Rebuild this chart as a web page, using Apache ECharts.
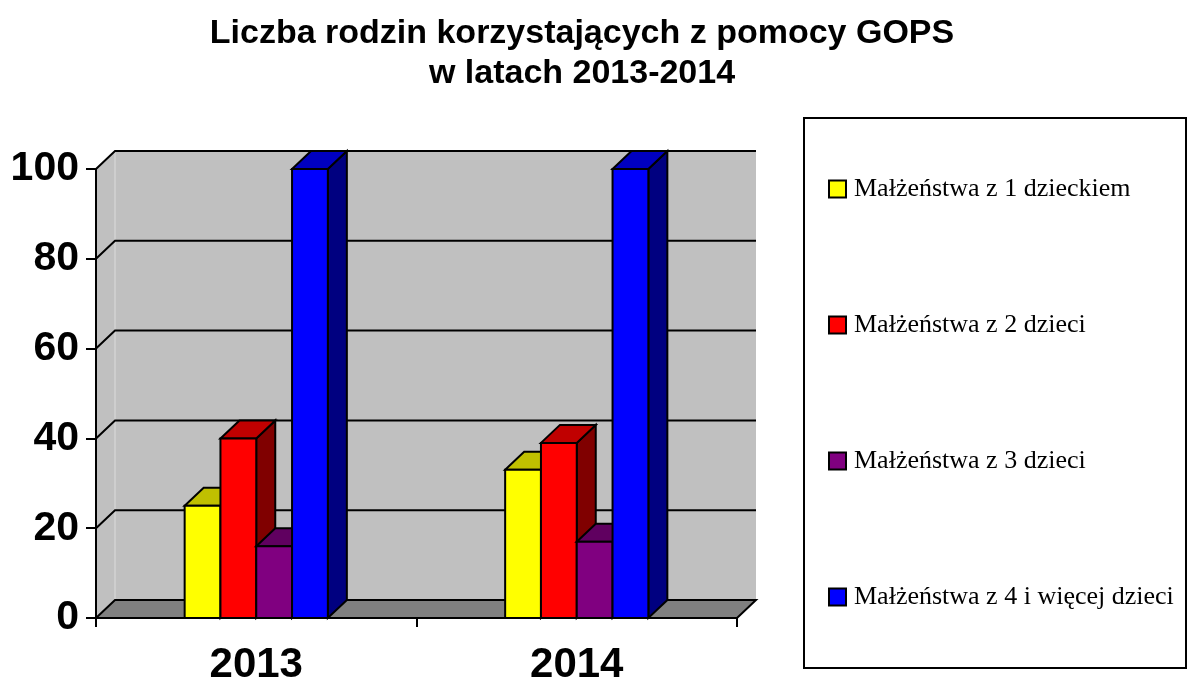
<!DOCTYPE html>
<html>
<head>
<meta charset="utf-8">
<title>Liczba rodzin korzystających z pomocy GOPS</title>
<script src="https://cdn.jsdelivr.net/npm/echarts@6/dist/echarts.min.js"></script>
<style>
  html, body { margin: 0; padding: 0; background: #fff; }
  #chart { width: 1188px; height: 680px; }
</style>
</head>
<body>
<div id="chart"></div>
<script>
// dane
const years = ['2013', '2014'];
const seriesNames = [
    'Małżeństwa z 1 dzieckiem',
    'Małżeństwa z 2 dzieci',
    'Małżeństwa z 3 dzieci',
    'Małżeństwa z 4 i więcej dzieci'
];
const jednoDziecko = [25, 33];
const dwojeDzieci = [40, 39];
const trojeDzieci = [16, 17];
const czworoIWiecej = [100, 100];
const yTicks = [0, 20, 40, 60, 80, 100];

const values = [jednoDziecko, dwojeDzieci, trojeDzieci, czworoIWiecej];
const frontColors = ['#ffff00', '#ff0000', '#800080', '#0000ff'];
const topColors = ['#c0c000', '#c00000', '#600060', '#0000c0'];
const sideColors = ['#808000', '#800000', '#400040', '#000080'];

// przesuniecie "glebi" 3D
const DX = 19, DY = -18;
const line = { stroke: '#000', lineWidth: 2 };

function poly(points, fill, stroke) {
    return {
        type: 'polygon',
        shape: { points: points },
        style: Object.assign({ fill: fill, lineJoin: 'miter' }, stroke === false ? { stroke: null } : line)
    };
}

function renderWalls(params, api) {
    const cs = params.coordSys;
    const gx = cs.x, gw = cs.width;
    const yTop = api.coord([0, yTicks[yTicks.length - 1]])[1];
    const yBot = api.coord([0, 0])[1];
    const children = [];
    // sciana tylna
    children.push({
        type: 'rect',
        shape: { x: gx + DX, y: yTop + DY, width: gw, height: yBot - yTop },
        style: { fill: '#c0c0c0' }
    });
    // sciana boczna
    children.push(poly([[gx, yTop], [gx + DX, yTop + DY], [gx + DX, yBot + DY], [gx, yBot]], '#c0c0c0', false));
    children.push({
        type: 'line',
        shape: { x1: gx + DX, y1: yTop + DY, x2: gx + DX, y2: yBot + DY },
        style: { stroke: '#dcdcdc', lineWidth: 1 }
    });
    // linie siatki
    yTicks.forEach(function (t) {
        if (t === 0) return;
        const y = api.coord([0, t])[1];
        children.push({
            type: 'polyline',
            shape: { points: [[gx, y], [gx + DX, y + DY], [gx + gw + DX, y + DY]] },
            style: { stroke: '#000', lineWidth: 2, fill: null }
        });
    });
    // podloga
    children.push(poly([[gx, yBot], [gx + DX, yBot + DY], [gx + gw + DX, yBot + DY], [gx + gw, yBot]], '#808080'));
    return { type: 'group', children: children };
}

function barRenderer(k) {
    return function (params, api) {
        const cat = api.value(0);
        const val = api.value(1);
        const base = api.coord([cat, 0]);
        const w = api.size([1, 0])[0] * 0.1117;
        const x0 = base[0] - 2 * w + k * w;
        const x1 = x0 + w;
        const yb = base[1];
        const yt = api.coord([cat, val])[1];
        return {
            type: 'group',
            children: [
                poly([[x1, yt], [x1 + DX, yt + DY], [x1 + DX, yb + DY], [x1, yb]], sideColors[k]),
                poly([[x0, yt], [x0 + DX, yt + DY], [x1 + DX, yt + DY], [x1, yt]], topColors[k]),
                { type: 'rect', shape: { x: x0, y: yt, width: w, height: yb - yt },
                  style: Object.assign({ fill: frontColors[k] }, line) }
            ]
        };
    };
}

const chart = echarts.init(document.getElementById('chart'), null, { renderer: 'canvas' });

const series = [{
    type: 'custom',
    name: 'walls',
    silent: true,
    clip: false,
    z: 1,
    renderItem: renderWalls,
    data: [[0, 0]]
}];
seriesNames.forEach(function (name, k) {
    series.push({
        type: 'custom',
        name: name,
        clip: false,
        z: 2,
        itemStyle: { color: frontColors[k] },
        renderItem: barRenderer(k),
        data: years.map(function (y, i) { return [i, values[k][i]]; })
    });
});

chart.setOption({
    animation: false,
    backgroundColor: '#fff',
    title: {
        text: 'Liczba rodzin korzystających z pomocy GOPS\nw latach 2013-2014',
        left: 577,
        top: 9,
        textAlign: 'center',
        textStyle: {
            fontFamily: 'Liberation Sans, Arial, sans-serif',
            fontSize: 34,
            fontWeight: 'bold',
            lineHeight: 40,
            color: '#000'
        }
    },
    graphic: [{
        type: 'rect',
        left: 803,
        top: 117,
        shape: { width: 382, height: 550 },
        style: { fill: '#fff', stroke: '#000', lineWidth: 2 },
        z: 0
    }],
    legend: {
        orient: 'vertical',
        left: 828,
        top: 176,
        padding: 0,
        itemWidth: 17,
        itemHeight: 17,
        itemGap: 110,
        selectedMode: false,
        data: seriesNames.map(function (n, k) {
            return { name: n, icon: 'rect', itemStyle: { color: frontColors[k], borderColor: '#000', borderWidth: 2 } };
        }),
        textStyle: {
            fontFamily: 'Liberation Serif, Times New Roman, serif',
            fontSize: 26,
            color: '#000',
            padding: [0, 0, 0, 3]
        }
    },
    grid: { left: 96, right: 451, top: 169, bottom: 62, containLabel: false, outerBoundsMode: 'none' },
    xAxis: {
        type: 'category',
        data: years,
        z: 5,
        axisLine: { lineStyle: { color: '#000', width: 2 } },
        axisTick: { show: true, length: 9, lineStyle: { color: '#000', width: 2 } },
        axisLabel: {
            margin: 26,
            fontFamily: 'Liberation Sans, Arial, sans-serif',
            fontSize: 42,
            fontWeight: 'bold',
            color: '#000'
        },
        splitLine: { show: false }
    },
    yAxis: {
        type: 'value',
        min: 0,
        max: 100,
        interval: 20,
        z: 5,
        axisLine: { show: true, lineStyle: { color: '#000', width: 2 } },
        axisTick: { show: true, length: 10, lineStyle: { color: '#000', width: 2 } },
        axisLabel: {
            margin: 17,
            fontFamily: 'Liberation Sans, Arial, sans-serif',
            fontSize: 41,
            fontWeight: 'bold',
            color: '#000'
        },
        splitLine: { show: false }
    },
    series: series
});
</script>
</body>
</html>
